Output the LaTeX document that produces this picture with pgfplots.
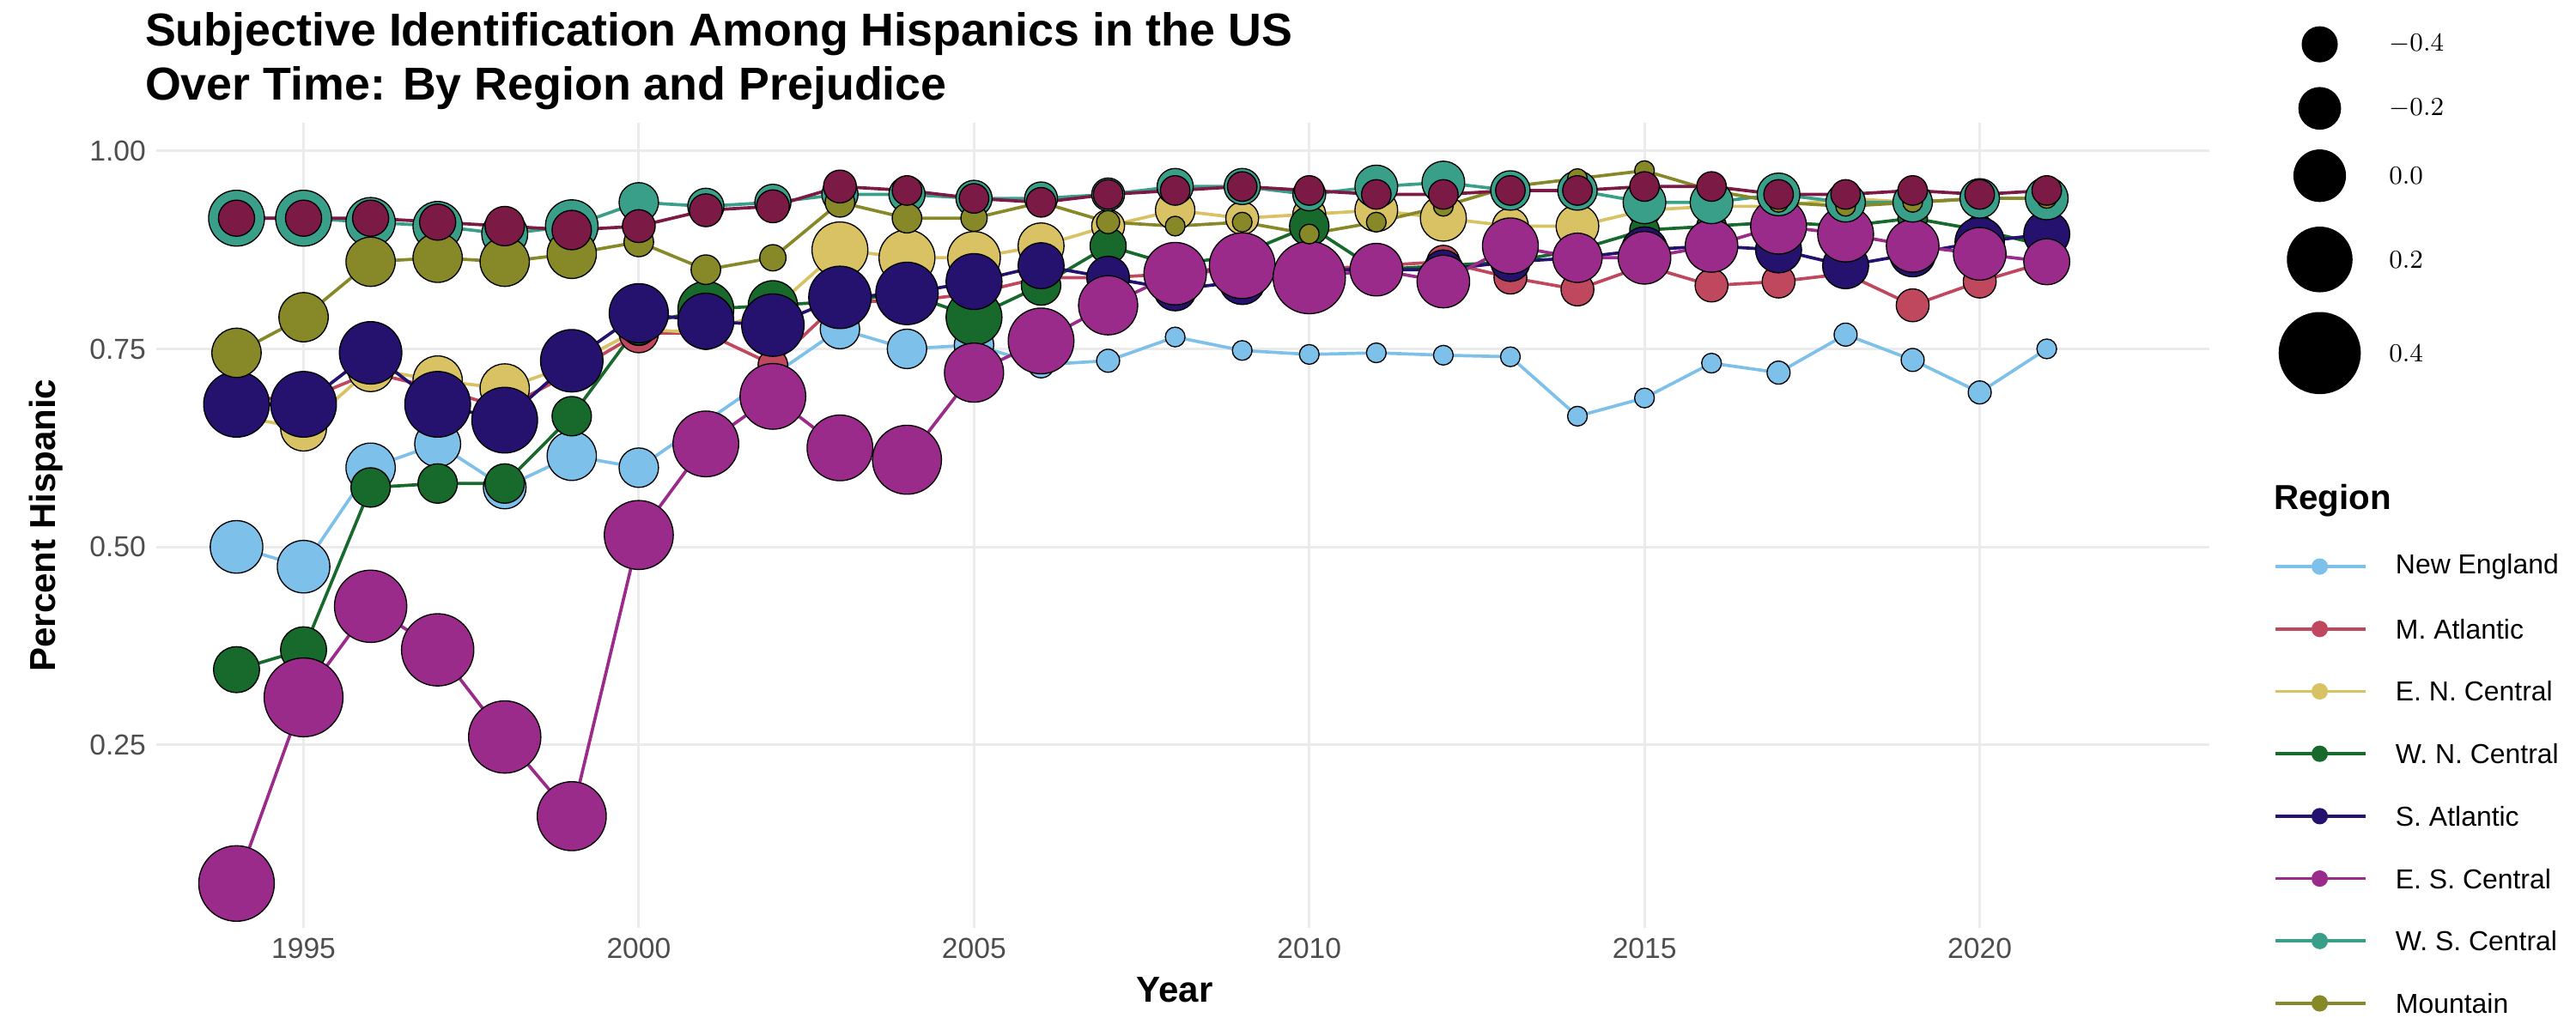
\documentclass[border=0pt]{standalone}
\usepackage{pgfplots}
\usepackage{pgfplotstable}
\pgfplotsset{compat=1.18}
\usepackage{fontspec}
\setmainfont{Liberation Sans}
\definecolor{cNE}{HTML}{7DC0EA}
\definecolor{cMA}{HTML}{C0485E}
\definecolor{cENC}{HTML}{D8C263}
\definecolor{cWNC}{HTML}{17692C}
\definecolor{cSA}{HTML}{24126E}
\definecolor{cESC}{HTML}{9B2B8B}
\definecolor{cWSC}{HTML}{3A9F88}
\definecolor{cMT}{HTML}{878827}
\definecolor{cPA}{HTML}{7B1A45}
\definecolor{grd}{HTML}{EBEBEB}
\definecolor{tk}{HTML}{4D4D4D}
\pgfplotstableread{
x y r
1994 0.50 16
1995 0.475 16
1996 0.60 15
1997 0.63 14
1998 0.575 13
1999 0.615 15
2000 0.60 12
2003 0.775 12
2004 0.75 12
2005 0.755 12
2006 0.73 8
2007 0.735 7
2008 0.765 6
2009 0.748 6
2010 0.743 6
2011 0.745 6
2012 0.742 6
2013 0.74 6
2014 0.665 6
2015 0.688 6
2016 0.732 6
2017 0.72 7
2018 0.768 7
2019 0.736 7
2020 0.695 7
2021 0.75 6
}\tNE
\pgfplotstableread{
x y r
1994 0.69 9
1995 0.685 9
1996 0.72 9
1997 0.70 9
1998 0.675 9
1999 0.72 9
2000 0.77 12
2001 0.77 9
2002 0.73 9
2003 0.81 9
2004 0.81 9
2005 0.82 9
2006 0.84 9
2007 0.84 9
2008 0.845 9
2009 0.85 9
2010 0.85 9
2011 0.855 9
2012 0.86 10
2013 0.84 10
2014 0.825 10
2015 0.855 9
2016 0.83 10
2017 0.835 10
2018 0.845 9
2019 0.805 10
2020 0.835 10
2021 0.86 9
}\tMA
\pgfplotstableread{
x y r
1994 0.665 10
1995 0.65 14
1996 0.725 14
1997 0.71 15
1998 0.70 15
1999 0.73 12
2000 0.775 10
2001 0.77 10
2002 0.80 10
2003 0.875 17
2004 0.865 17
2005 0.865 16
2006 0.88 14
2007 0.905 10
2008 0.925 12
2009 0.915 10
2010 0.92 10
2011 0.925 13
2012 0.915 14
2013 0.905 11
2014 0.905 13
2015 0.925 10
2016 0.93 10
2017 0.93 10
2018 0.94 10
2019 0.935 10
2020 0.94 10
2021 0.94 10
}\tENC
\pgfplotstableread{
x y r
1994 0.345 14
1995 0.37 14
1996 0.575 12
1997 0.58 12
1998 0.58 12
1999 0.665 12
2000 0.78 12
2001 0.80 17
2002 0.805 15
2003 0.81 12
2004 0.82 12
2005 0.79 17
2006 0.83 12
2007 0.88 11
2008 0.855 9
2009 0.87 9
2010 0.905 12
2011 0.85 9
2012 0.855 9
2013 0.86 9
2014 0.875 9
2015 0.90 9
2016 0.905 9
2017 0.91 9
2018 0.905 9
2019 0.915 9
2020 0.90 9
2021 0.88 9
}\tWNC
\pgfplotstableread{
x y r
1994 0.68 20
1995 0.68 20
1996 0.745 19
1997 0.68 20
1998 0.66 20
1999 0.735 19
2000 0.795 18
2001 0.785 17
2002 0.78 19
2003 0.815 19
2004 0.82 19
2005 0.835 17
2006 0.855 14
2007 0.84 13
2008 0.825 13
2009 0.835 14
2010 0.85 12
2011 0.85 12
2012 0.85 12
2013 0.86 12
2014 0.865 12
2015 0.875 14
2016 0.88 12
2017 0.875 14
2018 0.855 14
2019 0.87 14
2020 0.885 15
2021 0.895 14
}\tSA
\pgfplotstableread{
x y r
1994 0.075 23
1995 0.31 24
1996 0.425 22
1997 0.37 22
1998 0.26 22
1999 0.16 21
2000 0.515 21
2001 0.63 20
2002 0.69 20
2003 0.625 20
2004 0.61 21
2005 0.72 18
2006 0.76 20
2007 0.805 18
2008 0.845 19
2009 0.855 20
2010 0.84 22
2011 0.85 16
2012 0.835 16
2013 0.88 17
2014 0.865 15
2015 0.865 16
2016 0.88 16
2017 0.905 17
2018 0.895 17
2019 0.88 16
2020 0.87 16
2021 0.86 14
}\tESC
\pgfplotstableread{
x y r
1994 0.915 17
1995 0.915 17
1996 0.91 15
1997 0.905 15
1998 0.895 14
1999 0.905 16
2000 0.935 12
2001 0.93 11
2002 0.935 11
2003 0.945 11
2004 0.945 11
2005 0.94 11
2006 0.94 10
2007 0.945 10
2008 0.955 11
2009 0.955 11
2010 0.945 10
2011 0.955 13
2012 0.96 13
2013 0.95 12
2014 0.95 12
2015 0.935 13
2016 0.935 13
2017 0.945 13
2018 0.935 12
2019 0.935 12
2020 0.94 12
2021 0.94 13
}\tWSC
\pgfplotstableread{
x y r
1994 0.745 15
1995 0.79 15
1996 0.86 15
1997 0.865 15
1998 0.86 15
1999 0.87 15
2000 0.885 9
2001 0.85 9
2002 0.865 8
2003 0.935 9
2004 0.915 9
2005 0.915 8
2006 0.935 8
2007 0.91 7
2008 0.905 6
2009 0.91 6
2010 0.895 6
2011 0.91 6
2012 0.93 6
2013 0.955 6
2014 0.965 6
2015 0.975 6
2016 0.95 6
2017 0.935 6
2018 0.93 6
2019 0.935 6
2020 0.94 6
2021 0.94 6
}\tMT
\pgfplotstableread{
x y r
1994 0.915 11
1995 0.915 11
1996 0.915 11
1997 0.91 11
1998 0.905 12
1999 0.90 12
2000 0.905 10
2001 0.925 10
2002 0.93 10
2003 0.955 10
2004 0.95 9
2005 0.94 9
2006 0.935 9
2007 0.945 9
2008 0.95 9
2009 0.955 9
2010 0.95 9
2011 0.945 9
2012 0.945 9
2013 0.95 9
2014 0.95 9
2015 0.955 9
2016 0.955 9
2017 0.945 9
2018 0.945 9
2019 0.95 9
2020 0.945 9
2021 0.95 9
}\tPA
\newcommand{\ser}[2]{\addplot[#1, line width=1.1pt, no marks] table[x=x,y=y]{#2};}
\newcommand{\pts}[2]{\addplot[scatter, only marks, mark=*, scatter/use mapped color={draw=none, fill=#1}, visualization depends on={\thisrow{r}\as\rr}, scatter/@pre marker code/.append style={/tikz/mark size=0.2mm*\rr}] table[x=x,y=y,meta=r]{#2};}
\begin{document}
\begin{tikzpicture}
\useasboundingbox (-19mm,-12.4mm) rectangle (294.6mm,113mm);
\begin{axis}[at={(0,0)}, anchor=origin, scale only axis, width=250mm, height=98mm,
  xmin=1992.8, xmax=2023.43, ymin=0.019, ymax=1.035, clip=false,
  axis line style={draw=none}, tick style={draw=none},
  xtick={1995,2000,2005,2010,2015,2020}, ytick={0.25,0.5,0.75,1.0},
  yticklabels={0.25,0.50,0.75,1.00},
  grid=major, major grid style={grd, line width=0.9pt},
  ticklabel style={font=\fontsize{10}{12}\selectfont, text=tk},
  /pgf/number format/assume math mode=true,
  xticklabel style={/pgf/number format/1000 sep=}]
\ser{cNE}{\tNE}\ser{cMA}{\tMA}\ser{cENC}{\tENC}\ser{cWNC}{\tWNC}\ser{cSA}{\tSA}\ser{cESC}{\tESC}\ser{cWSC}{\tWSC}\ser{cMT}{\tMT}\ser{cPA}{\tPA}
\pts{cNE}{\tNE}\pts{cMA}{\tMA}\pts{cENC}{\tENC}\pts{cWNC}{\tWNC}\pts{cSA}{\tSA}\pts{cESC}{\tESC}\pts{cWSC}{\tWSC}\pts{cMT}{\tMT}\pts{cPA}{\tPA}
\end{axis}
\node[anchor=north west, align=left, font=\bfseries\fontsize{16}{19}\selectfont, inner sep=0] at (-1.4mm,111.6mm) {Subjective Identification Among Hispanics in the US\\Over Time: By Region and Prejudice};
\node[rotate=90, font=\bfseries\fontsize{12.5}{15}\selectfont] at (-13.4mm,49mm) {Percent Hispanic};
\node[font=\bfseries\fontsize{12.5}{15}\selectfont] at (124mm,-7.6mm) {Year};
% size legend
\foreach \yy/\rad/\lab in {27/11/-0.4, 66/13/-0.2, 107/16/0.0, 158/20/0.2, 215/25/0.4}{
  \fill ({(1412-95)*0.2mm},{(565-\yy)*0.2mm}) circle ({\rad*0.2mm});
  \node[anchor=west, font=\fontsize{9.5}{11}\selectfont] at ({(1448-95)*0.2mm},{(565-\yy)*0.2mm}) {$\lab$};
}
\node[anchor=west, font=\bfseries\fontsize{12}{14}\selectfont] at ({(1378-95)*0.2mm},{(565-305)*0.2mm}) {Region};
\foreach \yy/\cc/\lab in {345/cNE/New England, 383/cMA/M. Atlantic, 421/cENC/E. N. Central, 459/cWNC/W. N. Central, 497/cSA/S. Atlantic, 535/cESC/E. S. Central, 573/cWSC/W. S. Central, 611/cMT/Mountain}{
  \draw[\cc, line width=1.1pt] ({(1385-95)*0.2mm},{(565-\yy)*0.2mm}) -- ({(1440-95)*0.2mm},{(565-\yy)*0.2mm});
  \fill[\cc] ({(1412-95)*0.2mm},{(565-\yy)*0.2mm}) circle (1mm);
  \node[anchor=west, font=\fontsize{9.5}{11}\selectfont] at ({(1452-95)*0.2mm},{(565-\yy)*0.2mm}) {\lab};
}
\end{tikzpicture}
\end{document}
